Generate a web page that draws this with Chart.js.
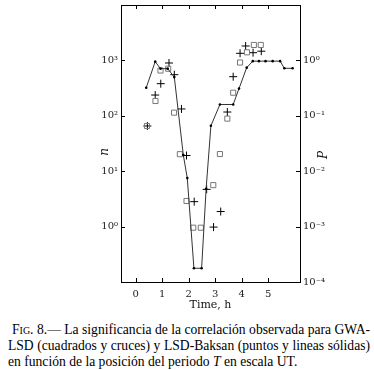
<!DOCTYPE html>
<html>
<head>
<meta charset="utf-8">
<script src="https://cdn.jsdelivr.net/npm/chart.js@4/dist/chart.umd.min.js"></script>
<style>
  html, body { margin: 0; padding: 0; background: #fff; }
  body { width: 374px; height: 370px; position: relative; overflow: hidden; }
  #wrap { position: absolute; left: 0; top: 0; width: 374px; height: 312px; }
  #cap { position: absolute; left: 8px; top: 322px; width: 362px; font-family: "Liberation Serif", serif; font-size: 13.6px; line-height: 16px; color: #000; }
  #cap .l { white-space: nowrap; }
  #cap .j { text-align: justify; text-align-last: justify; }
  .sc { font-variant: small-caps; }
</style>
</head>
<body>
<div id="wrap"><canvas id="c" width="374" height="312"></canvas></div>
<div id="cap">
  <div class="l j" style="padding-left:4px"><span class="sc">Fig.</span> 8.— La significancia de la correlación observada para GWA-</div>
  <div class="l j">LSD (cuadrados y cruces) y LSD-Baksan (puntos y lineas sólidas)</div>
  <div class="l">en función de la posición del periodo <i>T</i> en escala UT.</div>
</div>
<script>
// ---- data ----
const lineTime = [0.40, 0.74, 0.94, 1.21, 1.46, 1.80, 1.95, 2.20, 2.49, 2.66, 2.84, 3.18, 3.68, 3.90, 4.19, 4.42, 4.65, 4.90, 5.17, 5.45, 5.61, 5.92];
const lineP    = [0.32, 0.95, 0.71, 0.71, 0.50, 0.0196, 0.0075, 0.000177, 0.000177, 0.0048, 0.066, 0.16, 0.16, 0.31, 0.74, 0.97, 0.97, 0.97, 0.97, 0.97, 0.72, 0.72];

const squareTime = [0.43, 0.75, 0.94, 1.23, 1.45, 1.67, 1.92, 2.175, 2.46, 2.93, 3.18, 3.46, 3.68, 3.94, 4.20, 4.46, 4.72];
const squareN    = [65.5, 185, 657, 708, 114, 20.3, 2.9, 0.955, 0.955, 5.6, 20.4, 89, 261, 916, 1400, 1900, 1900];

const crossTime = [0.445, 0.74, 0.95, 1.26, 1.46, 1.73, 1.92, 2.21, 2.68, 2.94, 3.21, 3.46, 3.68, 3.94, 4.15, 4.43, 4.74];
const crossN    = [65.5, 237, 380, 898, 552, 133, 19.2, 2.82, 4.7, 0.98, 1.87, 117, 508, 1343, 1820, 1377, 1466];

const timeTicks = [0, 1, 2, 3, 4, 5];
const nTicks = [1, 10, 100, 1000];
const pTicks = [1e-4, 1e-3, 1e-2, 1e-1, 1];

const xTitle = 'Time, h';
const nTitle = 'n';
const pTitle = 'P';

// ---- helpers ----
const SUP = {'-':'\u207B','0':'\u2070','1':'\u00B9','2':'\u00B2','3':'\u00B3','4':'\u2074','5':'\u2075'};
function powLabel(v) {
  const e = Math.round(Math.log10(v));
  return '10' + String(e).split('').map(c => SUP[c]).join('');
}
const tickFont = { family: 'DejaVu Serif', size: 10 };

const framePlugin = {
  id: 'frame',
  afterDatasetsDraw(chart) {
    const { ctx, chartArea: a, scales } = chart;
    ctx.save();
    ctx.strokeStyle = '#000';
    ctx.lineWidth = 1;
    ctx.strokeRect(Math.round(a.left) + 0.5, Math.round(a.top) + 0.5, Math.round(a.right - a.left), Math.round(a.bottom - a.top));
    const L = 4;
    ctx.beginPath();
    scales.x.ticks.forEach(t => {
      const px = Math.round(scales.x.getPixelForValue(t.value)) + 0.5;
      ctx.moveTo(px, a.bottom); ctx.lineTo(px, a.bottom - L);
      ctx.moveTo(px, a.top); ctx.lineTo(px, a.top + L);
    });
    scales.yN.ticks.forEach(t => {
      const py = Math.round(scales.yN.getPixelForValue(t.value)) + 0.5;
      ctx.moveTo(a.left, py); ctx.lineTo(a.left + L, py);
    });
    scales.yP.ticks.forEach(t => {
      const py = Math.round(scales.yP.getPixelForValue(t.value)) + 0.5;
      ctx.moveTo(a.right, py); ctx.lineTo(a.right - L, py);
    });
    ctx.stroke();

    // axis titles
    ctx.fillStyle = '#111';
    ctx.textAlign = 'center';
    ctx.textBaseline = 'middle';
    ctx.font = '11px "DejaVu Serif"';
    ctx.fillText(xTitle, (a.left + a.right) / 2, 305);
    ctx.font = 'italic 12px "DejaVu Serif"';
    ctx.save();
    ctx.translate(a.left - 16, 152);
    ctx.rotate(-Math.PI / 2);
    ctx.fillText(nTitle, 0, 0);
    ctx.restore();
    ctx.save();
    ctx.translate(a.right + 24, 155);
    ctx.rotate(-Math.PI / 2);
    ctx.fillText(pTitle, 0, 0);
    ctx.restore();
    ctx.restore();
  }
};

new Chart(document.getElementById('c'), {
  type: 'scatter',
  data: {
    datasets: [
      {
        label: 'LSD-Baksan',
        data: lineTime.map((t, i) => ({ x: t, y: lineP[i] })),
        yAxisID: 'yP',
        showLine: true,
        borderColor: '#333',
        borderWidth: 1,
        pointRadius: 1.3,
        pointBackgroundColor: '#000',
        pointBorderWidth: 0,
        tension: 0
      },
      {
        label: 'GWA-LSD (cuadrados)',
        data: squareTime.map((t, i) => ({ x: t, y: squareN[i] })),
        yAxisID: 'yN',
        pointStyle: 'rect',
        pointRadius: 3.6,
        borderColor: '#777',
        backgroundColor: 'rgba(0,0,0,0)',
        borderWidth: 1
      },
      {
        label: 'GWA-LSD (cruces)',
        data: crossTime.map((t, i) => ({ x: t, y: crossN[i] })),
        yAxisID: 'yN',
        pointStyle: 'cross',
        pointRadius: 4,
        borderColor: '#000',
        backgroundColor: '#000',
        borderWidth: 1
      }
    ]
  },
  options: {
    responsive: false,
    animation: false,
    devicePixelRatio: 1,
    layout: { padding: { top: 5, left: 0, right: 0, bottom: 0 } },
    plugins: { legend: { display: false }, tooltip: { enabled: false } },
    scales: {
      x: {
        type: 'linear',
        position: 'bottom',
        min: -0.55,
        max: 6.2,
        grid: { display: false, drawTicks: false, tickLength: 0 },
        border: { display: false },
        afterBuildTicks: s => { s.ticks = timeTicks.map(v => ({ value: v })); },
        afterFit: s => { s.height = 30; s.paddingLeft = 0; s.paddingRight = 0; },
        ticks: { font: tickFont, color: '#222', padding: 6, maxRotation: 0, autoSkip: false, callback: v => String(v) }
      },
      yN: {
        type: 'logarithmic',
        position: 'left',
        min: 0.1,
        max: 1e4,
        grid: { display: false, drawTicks: false, tickLength: 0 },
        border: { display: false },
        afterBuildTicks: s => { s.ticks = nTicks.map(v => ({ value: v })); },
        afterFit: s => { s.width = 121; s.paddingTop = 0; s.paddingBottom = 0; },
        ticks: { font: tickFont, color: '#222', padding: 3, autoSkip: false, callback: v => powLabel(v) }
      },
      yP: {
        type: 'logarithmic',
        position: 'right',
        min: 1e-4,
        max: 10,
        grid: { display: false, drawTicks: false, tickLength: 0 },
        border: { display: false },
        afterBuildTicks: s => { s.ticks = pTicks.map(v => ({ value: v })); },
        afterFit: s => { s.width = 74; s.paddingTop = 0; s.paddingBottom = 0; },
        ticks: { font: tickFont, color: '#222', padding: 3, autoSkip: false, callback: v => powLabel(v) }
      }
    }
  },
  plugins: [framePlugin]
});
</script>
</body>
</html>
